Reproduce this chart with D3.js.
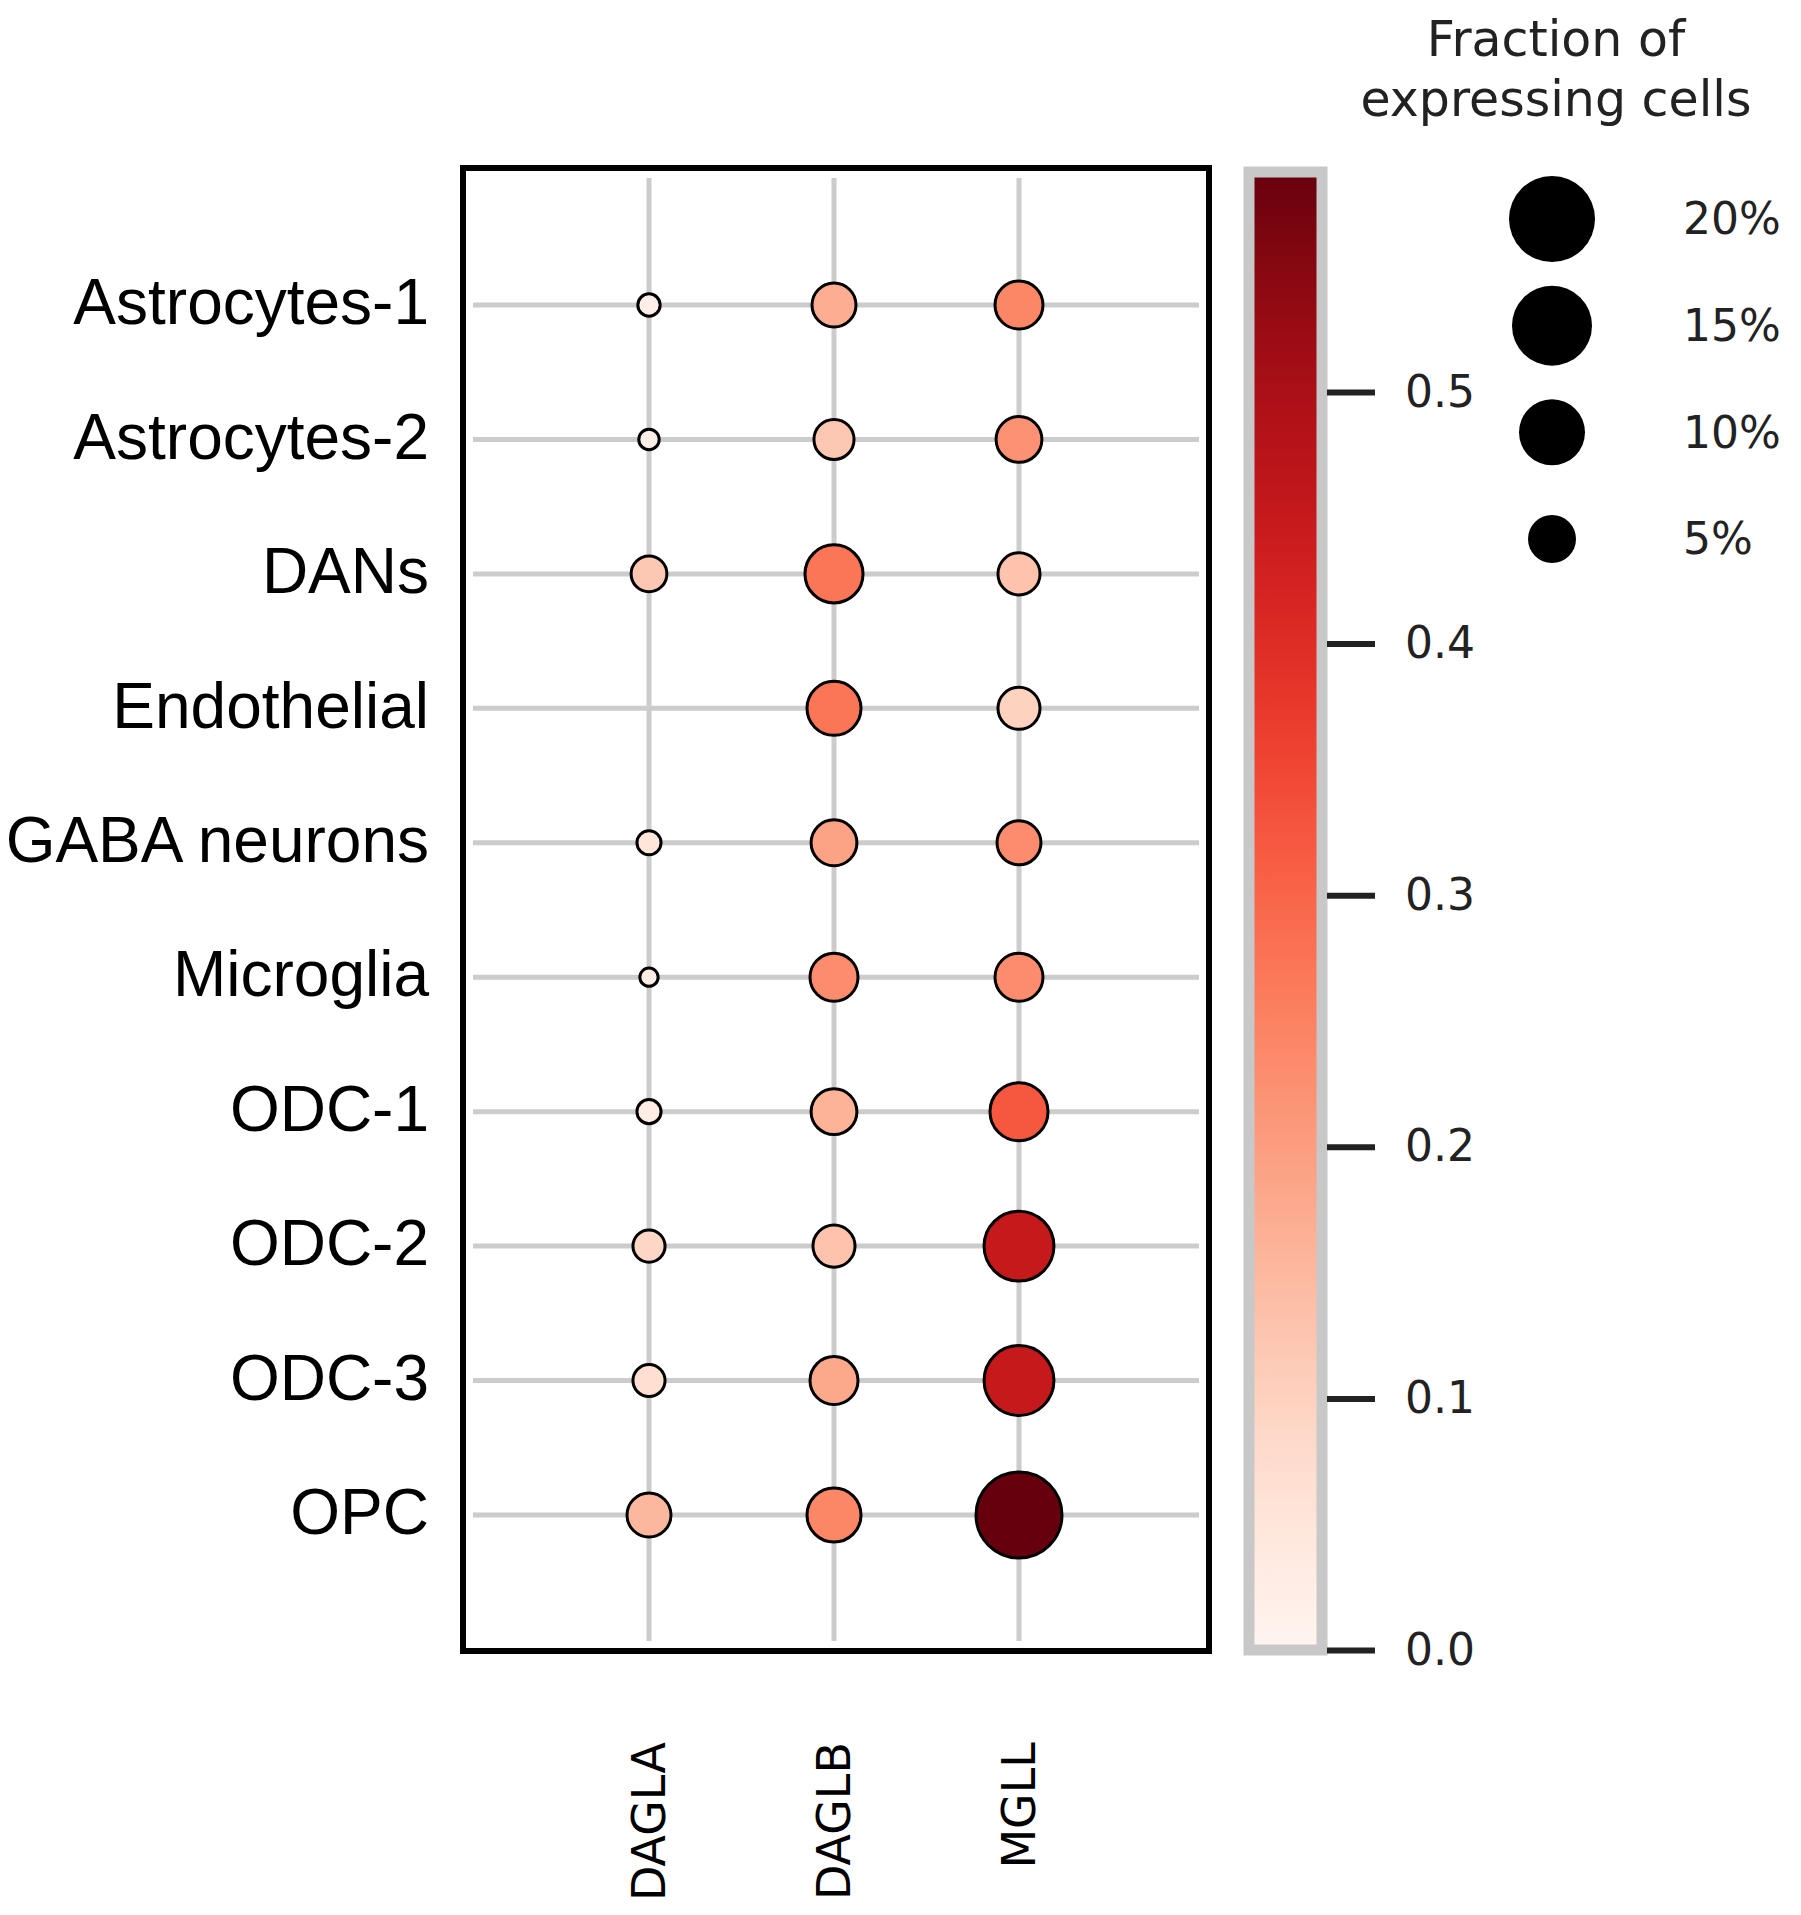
<!DOCTYPE html>
<html><head><meta charset="utf-8">
<script src="https://cdn.jsdelivr.net/npm/d3@7/dist/d3.min.js"></script>
<style>body{margin:0;background:#fff}</style></head>
<body><svg id="c" width="1801" height="1915"></svg>
<script>
const cellTypes=["Astrocytes-1","Astrocytes-2","DANs","Endothelial","GABA neurons","Microglia","ODC-1","ODC-2","ODC-3","OPC"];
const genes=["DAGLA","DAGLB","MGLL"];
// fraction of expressing cells (%) per gene, per cell type
const fracDAGLA=[0.6,0.4,2.5,0,0.8,0.2,0.8,1.9,1.9,4.1];
const fracDAGLB=[4.1,3.3,7.6,6.5,4.5,5.0,4.5,3.7,5.0,6.5];
const fracMGLL=[5.0,4.5,3.7,3.7,4.1,5.0,7.6,11.3,11.3,20];
// mean expression
const expDAGLA=[0.02,0.02,0.12,0,0.05,0.03,0.03,0.09,0.07,0.15];
const expDAGLB=[0.17,0.12,0.27,0.27,0.19,0.23,0.16,0.13,0.18,0.24];
const expMGLL=[0.24,0.22,0.13,0.10,0.23,0.23,0.32,0.45,0.45,0.585];
const cbTicks=[0,0.1,0.2,0.3,0.4,0.5];
const sizeLegend=[20,15,10,5];

const fr=[fracDAGLA,fracDAGLB,fracMGLL], ex=[expDAGLA,expDAGLB,expMGLL];
const svg=d3.select("#c");
const x=d3.scalePoint().domain(genes).range([649,1019]);
const y=d3.scalePoint().domain(cellTypes).range([305,1515]);
const rArea=d3.scaleLinear().domain([0,5,10,15,20]).range([63,576,1089,1600,1849]);
const r=f=>Math.sqrt(rArea(f));
const cmax=0.585;
const col=v=>d3.interpolateReds(v/cmax);

const g=svg.append("g");
g.selectAll(".h").data(cellTypes).join("line").attr("x1",473).attr("x2",1199)
 .attr("y1",d=>y(d)).attr("y2",d=>y(d)).attr("stroke","#cccccc").attr("stroke-width",5);
g.selectAll(".v").data(genes).join("line").attr("y1",178).attr("y2",1641)
 .attr("x1",d=>x(d)).attr("x2",d=>x(d)).attr("stroke","#cccccc").attr("stroke-width",5);
const pts=[];
genes.forEach((gn,i)=>cellTypes.forEach((ct,j)=>{if(fr[i][j]>0)pts.push({gn,ct,f:fr[i][j],e:ex[i][j]});}));
g.selectAll("circle").data(pts).join("circle").attr("cx",d=>x(d.gn)).attr("cy",d=>y(d.ct))
 .attr("r",d=>r(d.f)).attr("fill",d=>col(d.e)).attr("stroke","#000").attr("stroke-width",3);
svg.append("rect").attr("x",463).attr("y",168).attr("width",746).attr("height",1483)
 .attr("fill","none").attr("stroke","#000").attr("stroke-width",6);
svg.selectAll(".rl").data(cellTypes).join("text").attr("x",429).attr("y",d=>y(d)).attr("dy","0.3em")
 .attr("text-anchor","end").attr("font-family","Liberation Sans, Arial").attr("font-size",64).text(d=>d);
svg.selectAll(".cl").data(genes).join("text").attr("transform",d=>`translate(${x(d)+16},1742) rotate(-90)`)
 .attr("text-anchor","end").attr("font-family","DejaVu Sans").attr("font-size",46).text(d=>d);

const defs=svg.append("defs");
const lg=defs.append("linearGradient").attr("id","gr").attr("x1",0).attr("y1",1).attr("x2",0).attr("y2",0);
d3.range(0,1.0001,0.05).forEach(t=>lg.append("stop").attr("offset",t).attr("stop-color",d3.interpolateReds(t)));
const cy=d3.scaleLinear().domain([0,0.5]).range([1650,392]);
svg.append("rect").attr("x",1249).attr("y",172).attr("width",73).attr("height",1478).attr("fill","url(#gr)")
 .attr("stroke","#c8c8c8").attr("stroke-width",11);
const ax=svg.append("g").attr("transform","translate(1327,0)")
 .call(d3.axisRight(cy).tickValues(cbTicks).tickFormat(d3.format(".1f")).tickSize(48).tickPadding(30));
ax.select(".domain").remove();
ax.selectAll("line").attr("stroke","#222").attr("stroke-width",6);
ax.selectAll("text").attr("font-family","DejaVu Sans").attr("font-size",44).attr("fill","#222");

svg.append("text").attr("x",1556).attr("y",56).attr("text-anchor","middle").attr("font-family","DejaVu Sans").attr("font-size",49).attr("fill","#222").text("Fraction of");
svg.append("text").attr("x",1556).attr("y",116).attr("text-anchor","middle").attr("font-family","DejaVu Sans").attr("font-size",49).attr("fill","#222").text("expressing cells");
const ly=d3.scalePoint().domain(sizeLegend).range([219,539]);
svg.selectAll(".lc").data(sizeLegend).join("circle").attr("cx",1552).attr("cy",d=>ly(d)).attr("r",d=>r(d)).attr("fill","#000");
svg.selectAll(".lt").data(sizeLegend).join("text").attr("x",1683).attr("y",d=>ly(d)).attr("dy","0.35em")
 .attr("font-family","DejaVu Sans").attr("font-size",44).attr("fill","#222").text(d=>d+"%");
</script></body></html>
